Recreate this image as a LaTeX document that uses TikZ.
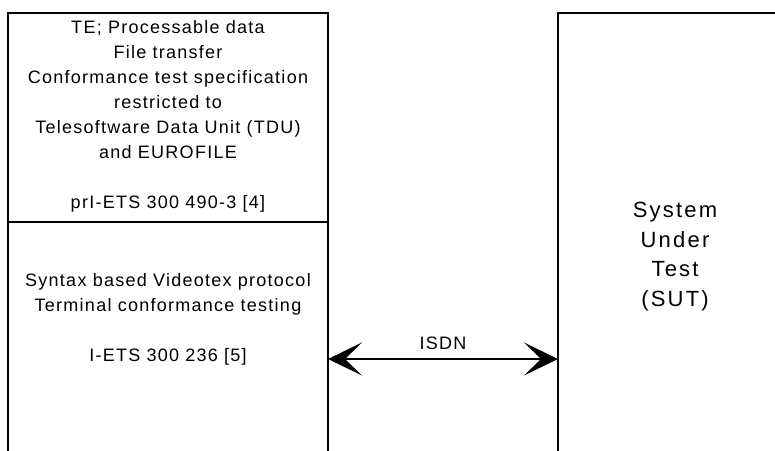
\documentclass[tikz,border=0pt]{standalone}
\usepackage{fontspec}
\setmainfont[LetterSpace=7]{Liberation Sans}
\newfontfamily\sutfont[LetterSpace=10]{Liberation Sans}
\usetikzlibrary{arrows.meta}
\tikzset{
  outline/.style={line width=1.3pt, line cap=rect},
  boxtext/.style={align=center, inner sep=0pt, anchor=north, font=\fontsize{18}{25}\selectfont},
  suttext/.style={align=center, inner sep=0pt, anchor=north, font=\sutfont\fontsize{22}{29.5}\selectfont},
  isdnlink/.style={line width=1.8pt, {Stealth[length=34pt,width=33pt,inset=17pt]}-{Stealth[length=34pt,width=33pt,inset=17pt]}},
}
\begin{document}
\begin{tikzpicture}[x=1pt,y=-1pt]
\useasboundingbox (0,0) rectangle (775,450);
% frame corners
\coordinate (L-bl) at (8,452);
\coordinate (L-tl) at (8,13);
\coordinate (L-tr) at (328,13);
\coordinate (L-br) at (328,452);
\coordinate (L-ml) at (8,222);
\coordinate (L-mr) at (328,222);
\coordinate (R-bl) at (558,452);
\coordinate (R-tl) at (558,13);
\coordinate (R-tr) at (777,13);
\draw[outline] (L-bl) -- (L-tl) -- (L-tr) -- (L-br);
\draw[outline] (L-ml) -- (L-mr);
\draw[outline] (R-bl) -- (R-tl) -- (R-tr);
% texts
\node[boxtext] (spec) at (168,20) {TE; Processable data\\File transfer\\Conformance test specification\\restricted to\\Telesoftware Data Unit (TDU)\\and EUROFILE\\[25pt]prI-ETS 300 490-3 [4]};
\node[boxtext] (tester) at (168,273.5) {Syntax based Videotex protocol\\Terminal conformance testing\\[25pt]I-ETS 300 236 [5]};
\node[suttext] (sut) at (675,202) {System\\Under\\Test\\(SUT)};
% link
\coordinate (linkL) at (328,359);
\coordinate (linkR) at (558,359);
\draw[isdnlink] (linkL) -- (linkR) node[midway, anchor=base, yshift=10pt, font=\fontsize{18}{25}\selectfont] (isdn) {ISDN};
\end{tikzpicture}
\end{document}
